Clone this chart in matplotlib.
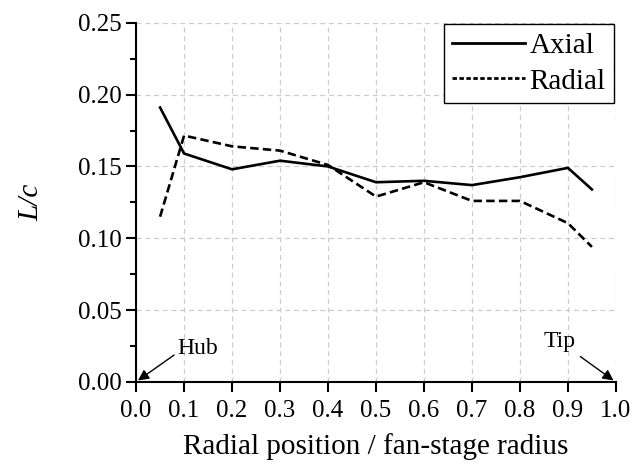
import matplotlib
matplotlib.use("Agg")
import matplotlib.pyplot as plt
from matplotlib.lines import Line2D

plt.rcParams['font.family'] = ['Liberation Serif', 'DejaVu Serif']

# radial stations and measured L/c values
r_pos = [0.05, 0.1, 0.2, 0.3, 0.4, 0.5, 0.6, 0.7, 0.8, 0.9, 0.95]
axial = [0.191, 0.159, 0.148, 0.154, 0.150, 0.139, 0.140, 0.137, 0.1425, 0.149, 0.134]
radial = [0.115, 0.1715, 0.164, 0.161, 0.151, 0.129, 0.139, 0.126, 0.126, 0.1105, 0.094]

x_ticks = [0.0, 0.1, 0.2, 0.3, 0.4, 0.5, 0.6, 0.7, 0.8, 0.9, 1.0]
y_ticks = [0.00, 0.05, 0.10, 0.15, 0.20, 0.25]

fig = plt.figure(figsize=(6.33, 4.75), dpi=100)
ax = fig.add_axes([0.215, 0.196, 0.758, 0.756])

ax.plot(r_pos, axial, color='black', lw=1.9)
ax.plot(r_pos, radial, color='black', lw=1.9, dashes=(3.2, 1.6))

ax.set_xlim(0, 1.0)
ax.set_ylim(0, 0.25)
ax.set_xticks(x_ticks)
ax.set_yticks(y_ticks)
ax.set_xticklabels([f"{v:.1f}" for v in x_ticks])
ax.set_yticklabels([f"{v:.2f}" for v in y_ticks])
ax.set_yticks([0.025, 0.075, 0.125, 0.175, 0.225], minor=True)

ax.spines['top'].set_visible(False)
ax.spines['right'].set_visible(False)
ax.spines['left'].set_linewidth(1.5)
ax.spines['bottom'].set_linewidth(1.5)
ax.tick_params(which='major', direction='out', length=7, width=1.5, labelsize=18)
ax.tick_params(axis='x', which='major', pad=6)
ax.tick_params(which='minor', direction='out', length=4, width=1.5)

ax.grid(True, which='major', color='#cccccc', linestyle=(0, (4, 3)), lw=0.9)

ax.set_xlabel("Radial position / fan-stage radius", fontsize=21, labelpad=8)
ax.set_ylabel("L/c", fontsize=21, fontstyle='italic', labelpad=24)

ax.annotate("Hub", xy=(0.004, 0.001), xytext=(0.085, 0.023),
            fontsize=17, va='center', ha='left',
            arrowprops=dict(arrowstyle='-|>', color='black', lw=1.0,
                            mutation_scale=16, shrinkA=0, shrinkB=0,
                            relpos=(0.0, 0.3)))
ax.annotate("Tip", xy=(0.995, 0.001), xytext=(0.883, 0.028),
            fontsize=17, va='center', ha='center',
            arrowprops=dict(arrowstyle='-|>', color='black', lw=1.0,
                            mutation_scale=16, shrinkA=2, shrinkB=0))

handles = [Line2D([], [], color='black', lw=2.0),
           Line2D([], [], color='black', lw=2.0, dashes=(1.6, 0.9))]
leg = ax.legend(handles, ['Axial', 'Radial'], loc='upper right', fontsize=21,
                frameon=True, fancybox=False, edgecolor='black', framealpha=1,
                borderaxespad=0.05, handlelength=2.5, handletextpad=0.15,
                borderpad=0.3, labelspacing=0.3)
leg.get_frame().set_linewidth(1.0)

fig.savefig("out.png", dpi=100)
